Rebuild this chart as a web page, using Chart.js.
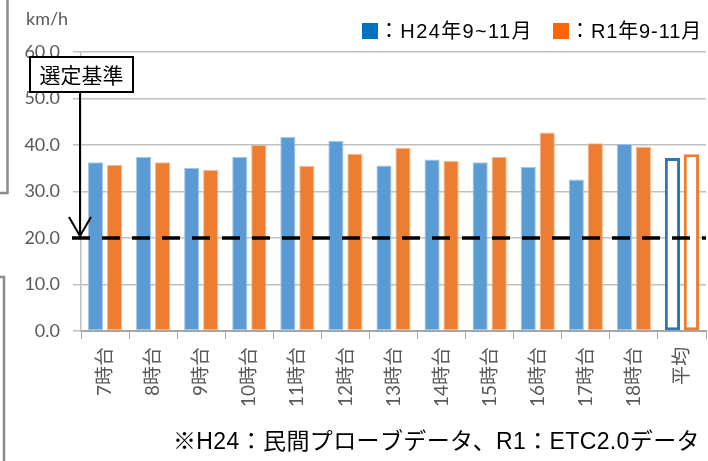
<!DOCTYPE html>
<html lang="ja">
<head>
<meta charset="utf-8">
<script src="https://cdn.jsdelivr.net/npm/chart.js@4/dist/chart.umd.min.js"></script>
<style>
  html, body { margin: 0; padding: 0; background: #fff; }
  #wrap { position: relative; width: 708px; height: 461px; }
</style>
</head>
<body>
<div id="wrap"><canvas id="c" width="708" height="461"></canvas></div>
<script>
// Hour-of-day categories plus the overall average
const categories = ['7時台', '8時台', '9時台', '10時台', '11時台', '12時台',
  '13時台', '14時台', '15時台', '16時台', '17時台', '18時台', '平均'];

// Average travel speed (km/h)
const h24Speeds = [36.3, 37.5, 35.1, 37.5, 41.7, 40.9, 35.6, 36.9, 36.3, 35.3, 32.6, 40.2, 37.2];
const r1Speeds  = [35.7, 36.3, 34.6, 40.0, 35.5, 38.1, 39.4, 36.6, 37.4, 42.7, 40.4, 39.6, 38.0];

const seriesNames = ['：H24年9~11月', '：R1年9-11月'];
const yMin = 0, yMax = 60, yStep = 10;
const unitLabel = 'km/h';
const threshold = 20;
const thresholdLabel = '選定基準';
const footnote = '※H24：民間プローブデータ、R1：ETC2.0データ';

const BLUE = '#5B9BD5', BLUE_LINE = '#2E75B6', BLUE_KEY = '#0070C0';
const ORANGE = '#ED7D31', ORANGE_KEY = '#FF6600';
const TEXT_GRAY = '#595959';
const LAT = 'Lato, "Noto Sans CJK JP", sans-serif';
const JP = '"Liberation Sans", "Noto Sans CJK JP", sans-serif';
const lastIdx = categories.length - 1;

// Draw a single line of text spread evenly between two x positions
function spreadText(ctx, text, x0, x1, y) {
  ctx.letterSpacing = '0px';
  const w = ctx.measureText(text).width;
  const n = [...text].length;
  const ls = Math.max(0, (x1 - x0 - w) / n);
  ctx.letterSpacing = ls.toFixed(2) + 'px';
  ctx.textAlign = 'left';
  ctx.fillText(text, x0, y);
  ctx.letterSpacing = '0px';
}

// Annotations: slide frame edges, unit, legend, threshold line, callout, footnote
const decorations = {
  id: 'decorations',
  beforeDraw(chart) {
    const ctx = chart.ctx;
    ctx.save();
    ctx.strokeStyle = '#8C8C8C';
    ctx.lineWidth = 2.5;
    ctx.beginPath();
    ctx.moveTo(7.5, 0); ctx.lineTo(7.5, 193); ctx.lineTo(0, 193);
    ctx.moveTo(0, 277); ctx.lineTo(4, 277); ctx.lineTo(4, 461);
    ctx.stroke();

    ctx.fillStyle = TEXT_GRAY;
    ctx.font = '18px ' + LAT;
    ctx.textBaseline = 'middle';
    ctx.textAlign = 'left';
    ctx.fillText(unitLabel, 26, 19);
    ctx.restore();
  },
  afterDatasetsDraw(chart) {
    const ctx = chart.ctx;
    const y = chart.scales.y;
    const area = chart.chartArea;
    const ty = y.getPixelForValue(threshold);
    ctx.save();

    // threshold dashed line
    ctx.strokeStyle = '#000';
    ctx.lineWidth = 3.5;
    ctx.setLineDash([18, 12]);
    ctx.beginPath();
    ctx.moveTo(72, ty);
    ctx.lineTo(area.right, ty);
    ctx.stroke();
    ctx.setLineDash([]);

    // callout box and arrow
    const bx = 30, by = 57, bw = 103, bh = 35;
    ctx.lineWidth = 2;
    ctx.beginPath();
    ctx.moveTo(80, by + bh);
    ctx.lineTo(80, ty - 2);
    ctx.stroke();
    ctx.beginPath();
    ctx.moveTo(69, ty - 21);
    ctx.lineTo(80, ty - 2);
    ctx.lineTo(91, ty - 21);
    ctx.stroke();
    ctx.fillStyle = '#fff';
    ctx.fillRect(bx, by, bw, bh);
    ctx.strokeRect(bx, by, bw, bh);
    ctx.fillStyle = '#000';
    ctx.font = '21px "Noto Sans CJK JP", sans-serif';
    ctx.textAlign = 'center';
    ctx.textBaseline = 'middle';
    ctx.fillText(thresholdLabel, bx + bw / 2, by + bh / 2 + 1);

    // legend
    ctx.font = '20px ' + JP;
    const keys = [BLUE_KEY, ORANGE_KEY];
    const xs = [362, 553];
    const ends = [533, 702];
    for (let i = 0; i < 2; i++) {
      ctx.fillStyle = keys[i];
      ctx.fillRect(xs[i], 23, 16, 16);
      ctx.fillStyle = '#000';
      spreadText(ctx, seriesNames[i], xs[i] + 17, ends[i], 32);
    }

    // footnote
    ctx.font = '23px ' + JP;
    spreadText(ctx, footnote, 173, 700, 443);
    ctx.restore();
  }
};

const pick = (normal, avg) => (c) => (c.dataIndex === lastIdx ? avg : normal);

new Chart(document.getElementById('c'), {
  type: 'bar',
  data: {
    labels: categories,
    datasets: [
      {
        label: seriesNames[0],
        data: h24Speeds,
        backgroundColor: pick(BLUE, '#FFFFFF'),
        borderColor: pick('rgba(157,195,230,0.9)', BLUE_LINE),
        borderWidth: pick(1, 3),
        borderSkipped: false,
        categoryPercentage: 0.79,
        barPercentage: 0.8
      },
      {
        label: seriesNames[1],
        data: r1Speeds,
        backgroundColor: pick(ORANGE, '#FFFFFF'),
        borderColor: pick('rgba(244,177,131,0.9)', ORANGE),
        borderWidth: pick(1, 3),
        borderSkipped: false,
        categoryPercentage: 0.79,
        barPercentage: 0.8
      }
    ]
  },
  options: {
    responsive: false,
    animation: false,
    devicePixelRatio: 1,
    layout: { padding: { top: 52, right: 2, bottom: 0, left: 0 } },
    plugins: {
      legend: { display: false },
      tooltip: { enabled: false }
    },
    scales: {
      x: {
        grid: {
          display: true,
          drawOnChartArea: false,
          drawTicks: true,
          tickLength: 8,
          tickColor: '#A6A6A6',
          offset: true
        },
        border: { color: '#A6A6A6', width: 2 },
        ticks: {
          minRotation: 90,
          maxRotation: 90,
          autoSkip: false,
          padding: 8,
          color: TEXT_GRAY,
          font: { family: LAT, size: 19 }
        },
        afterFit(scale) {
          scale.height = 130;
          scale.paddingLeft = 0;
          scale.paddingRight = 0;
        }
      },
      y: {
        min: yMin,
        max: yMax,
        ticks: {
          stepSize: yStep,
          padding: 13,
          color: TEXT_GRAY,
          font: { family: LAT, size: 18 },
          callback: (v) => Number(v).toFixed(1)
        },
        grid: {
          color: '#C0C0C0',
          lineWidth: 1.5,
          drawTicks: true,
          tickLength: 8,
          tickColor: '#BFBFBF'
        },
        border: { color: '#BFBFBF', width: 1.5 },
        afterFit(scale) {
          scale.width = 81;
        }
      }
    }
  },
  plugins: [decorations]
});
</script>
</body>
</html>
